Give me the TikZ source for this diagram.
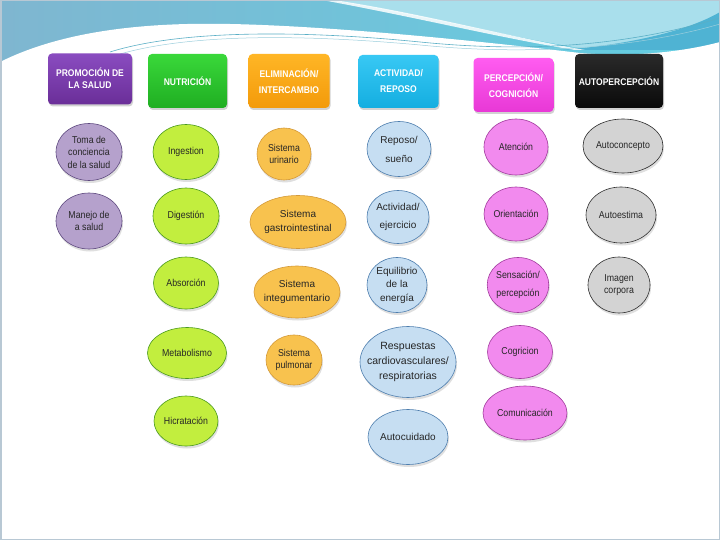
\documentclass[tikz,border=0pt]{standalone}
\usepackage{fontspec}
\setmainfont{Liberation Sans}
\newfontfamily\nar[FakeStretch=0.88]{Liberation Sans}
\usetikzlibrary{shapes.geometric,shadows}
\definecolor{bandL}{HTML}{7FB6D0}
\definecolor{bandR}{HTML}{62CFE3}
\definecolor{bandLight}{HTML}{A9DFEC}
\definecolor{bandDark}{HTML}{4FB3D3}
\definecolor{ribbon}{HTML}{5AAFC6}
\definecolor{frameC}{HTML}{B8C8D4}
\definecolor{hPuT}{HTML}{8A4CC0}\definecolor{hPuB}{HTML}{6A2E98}
\definecolor{hGrT}{HTML}{3AD83A}\definecolor{hGrB}{HTML}{1FAE22}
\definecolor{hOrT}{HTML}{FFB626}\definecolor{hOrB}{HTML}{F39A0A}
\definecolor{hCyT}{HTML}{38C8F4}\definecolor{hCyB}{HTML}{14AEE0}
\definecolor{hMaT}{HTML}{FF5CF0}\definecolor{hMaB}{HTML}{E838D6}
\definecolor{hBkT}{HTML}{2A2A2A}\definecolor{hBkB}{HTML}{0A0A0A}
\definecolor{ePuF}{HTML}{B5A1CC}\definecolor{ePuD}{HTML}{5F4A80}
\definecolor{eGrF}{HTML}{C2EE3E}\definecolor{eGrD}{HTML}{4A9A1E}
\definecolor{eOrF}{HTML}{F8C24E}\definecolor{eOrD}{HTML}{D49A3A}
\definecolor{eBlF}{HTML}{C6DEF2}\definecolor{eBlD}{HTML}{4E7EAE}
\definecolor{eMaF}{HTML}{F28AEE}\definecolor{eMaD}{HTML}{A23C9E}
\definecolor{eGyF}{HTML}{D3D3D3}\definecolor{eGyD}{HTML}{2E2E2E}
\tikzset{
  hdr/.style={rounded corners=4pt, draw=none, align=center, text=white,
    font=\nar\bfseries\fontsize{9.7}{16}\selectfont, inner sep=0pt,
    drop shadow={opacity=0.35, shadow xshift=1pt, shadow yshift=-2pt}},
  ell/.style={ellipse, inner sep=0pt, line width=0.6pt, align=center,
    font=\nar\fontsize{10}{12.5}\selectfont, text=black!85,
    drop shadow={opacity=0.25, shadow xshift=1pt, shadow yshift=-2.5pt}},
  widetext/.style={font=\fontsize{10}{14.5}\selectfont, inner xsep=-3pt},
  midtext/.style={font=\fontsize{10}{12.5}\selectfont},
  pu/.style={ell, fill=ePuF, draw=ePuD},
  gr/.style={ell, fill=eGrF, draw=eGrD},
  orr/.style={ell, fill=eOrF, draw=eOrD},
  bl/.style={ell, fill=eBlF, draw=eBlD, midtext},
  ma/.style={ell, fill=eMaF, draw=eMaD},
  gy/.style={ell, fill=eGyF, draw=eGyD},
}
\begin{document}
\begin{tikzpicture}[x=1pt,y=-1pt]
\useasboundingbox (0,0) rectangle (720,540);
% background
\fill[white] (0,0) rectangle (720,540);
\shade[left color=bandL, right color=bandR] (0,0) rectangle (720,70);
\fill[bandLight] (330,0) .. controls (420,15) and (500,35) .. (580,48) -- (720,48) -- (720,0) -- cycle;
\fill[bandDark] (560,50) .. controls (630,45) and (690,30) .. (720,12) -- (720,50) -- cycle;
\fill[white, opacity=0.85] (322,0) .. controls (420,18) and (500,38) .. (575,50) -- (585,50) .. controls (505,36) and (425,14) .. (334,0) -- cycle;
\fill[white] (0,62) .. controls (60,32) and (140,22) .. (230,24) .. controls (330,26) and (470,40) .. (580,53) .. controls (640,58) and (690,50) .. (720,42) -- (720,540) -- (0,540) -- cycle;
\draw[ribbon, line width=0.6pt] (110,52) .. controls (180,30) and (300,30) .. (420,42) .. controls (520,52) and (620,48) .. (720,18);
\draw[ribbon!60, line width=0.5pt] (120,54) .. controls (190,34) and (300,34) .. (420,45) .. controls (520,55) and (630,50) .. (720,24);
\draw[frameC, line width=1.5pt] (0.75,0.75) rectangle (719.25,539.25);
% headers
\node[hdr, top color=hPuT, bottom color=hPuB, minimum width=84pt, minimum height=51pt] (h1) at (90,79) {\raisebox{7pt}{\begin{tabular}{@{}c@{}}PROMOCIÓN DE\\[-4pt]LA SALUD\end{tabular}}};
\node[hdr, top color=hGrT, bottom color=hGrB, minimum width=79pt, minimum height=54pt] (h2) at (187.5,81) {NUTRICIÓN};
\node[hdr, top color=hOrT, bottom color=hOrB, minimum width=81pt, minimum height=54pt] (h3) at (289,81) {ELIMINACIÓN/\\INTERCAMBIO};
\node[hdr, top color=hCyT, bottom color=hCyB, minimum width=80pt, minimum height=53pt] (h4) at (398.5,81.5) {ACTIVIDAD/\\REPOSO};
\node[hdr, top color=hMaT, bottom color=hMaB, minimum width=80pt, minimum height=54pt] (h5) at (513.5,85) {PERCEPCIÓN/\\COGNICIÓN};
\node[hdr, top color=hBkT, bottom color=hBkB, minimum width=88pt, minimum height=54pt] (h6) at (619,81) {AUTOPERCEPCIÓN};
% column 1
\node[pu, minimum width=66pt, minimum height=57pt] (p1) at (89,152) {Toma de\\conciencia\\de la salud};
\node[pu, minimum width=66pt, minimum height=56pt] (p2) at (89,221) {Manejo de\\a salud};
% column 2
\node[gr, minimum width=66pt, minimum height=55pt] (g1) at (186,152) {Ingestion};
\node[gr, minimum width=66pt, minimum height=56pt] (g2) at (186,216) {Digestión};
\node[gr, minimum width=65pt, minimum height=52pt] (g3) at (186,283) {Absorción};
\node[gr, minimum width=79pt, minimum height=51pt] (g4) at (187,353) {Metabolismo};
\node[gr, minimum width=64pt, minimum height=50pt] (g5) at (186,421) {Hicratación};
% column 3
\node[orr, minimum width=54pt, minimum height=52pt] (o1) at (284,154) {Sistema\\urinario};
\node[orr, widetext, minimum width=96pt, minimum height=53pt] (o2) at (298,222) {Sistema\\gastrointestinal};
\node[orr, widetext, minimum width=86pt, minimum height=52pt] (o3) at (297,292) {Sistema\\integumentario};
\node[orr, minimum width=56pt, minimum height=50pt] (o4) at (294,360) {Sistema\\pulmonar};
% column 4
\node[bl, font=\fontsize{10}{19}\selectfont, minimum width=64pt, minimum height=55pt] (b1) at (399,149) {Reposo/\\sueño};
\node[bl, font=\fontsize{10}{18}\selectfont, minimum width=62pt, minimum height=53pt] (b2) at (398,217) {Actividad/\\ejercicio};
\node[bl, font=\fontsize{10}{13.5}\selectfont, minimum width=60pt, minimum height=55pt] (b3) at (397,285) {Equilibrio\\de la\\energía};
\node[bl, font=\fontsize{10.5}{15}\selectfont, inner xsep=-7pt, minimum width=96pt, minimum height=71pt] (b4) at (408,362) {Respuestas\\cardiovasculares/\\respiratorias};
\node[bl, minimum width=80pt, minimum height=55pt] (b5) at (408,437) {Autocuidado};
% column 5
\node[ma, minimum width=64pt, minimum height=56pt] (m1) at (516,147) {Atención};
\node[ma, minimum width=64pt, minimum height=54pt] (m2) at (516,214) {Orientación};
\node[ma, font=\nar\fontsize{10}{18}\selectfont, minimum width=60pt, minimum height=55pt] (m3) at (518,285) {Sensación/\\percepción};
\node[ma, minimum width=65pt, minimum height=53pt] (m4) at (520,352) {Cogricion};
\node[ma, minimum width=84pt, minimum height=54pt] (m5) at (525,413) {Comunicación};
% column 6
\node[gy, minimum width=80pt, minimum height=54pt] (a1) at (623,146) {Autoconcepto};
\node[gy, minimum width=70pt, minimum height=56pt] (a2) at (621,215) {Autoestima};
\node[gy, minimum width=62pt, minimum height=56pt] (a3) at (619,285) {Imagen\\corpora};
\end{tikzpicture}
\end{document}
